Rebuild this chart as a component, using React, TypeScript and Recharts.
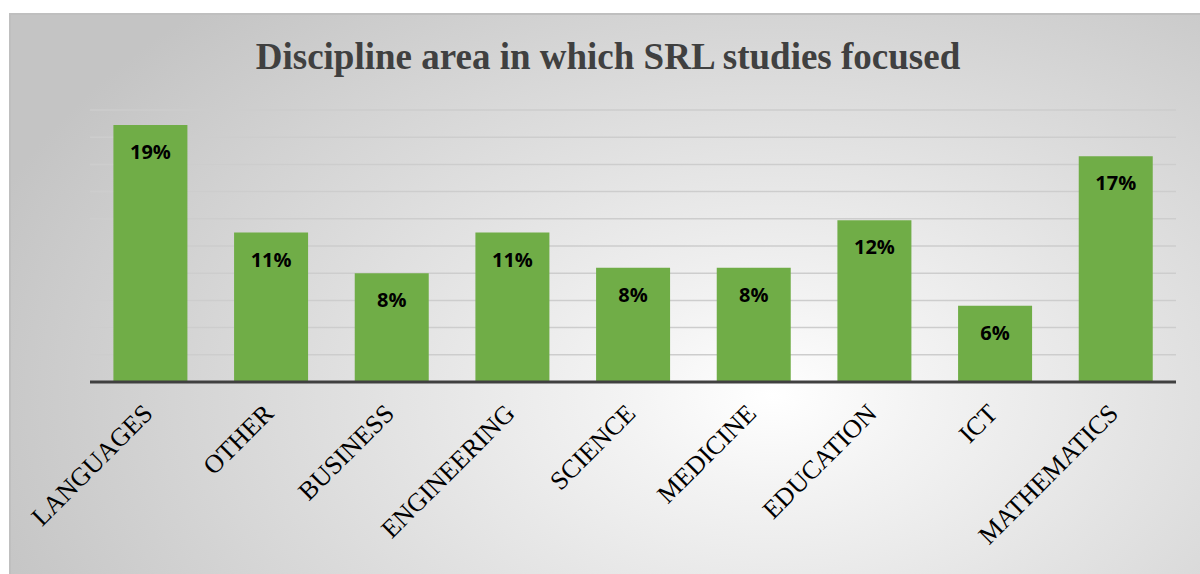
import React from 'react';
import { BarChart, Bar, XAxis, YAxis, CartesianGrid, LabelList } from 'recharts';

const disciplines = ['LANGUAGES', 'OTHER', 'BUSINESS', 'ENGINEERING', 'SCIENCE', 'MEDICINE', 'EDUCATION', 'ICT', 'MATHEMATICS'];
const shares = [18.9, 11.0, 8.0, 11.0, 8.4, 8.4, 11.9, 5.6, 16.6];
const gridTicks = [0, 2, 4, 6, 8, 10, 12, 14, 16, 18, 20];

const data = disciplines.map((name, i) => ({ name, value: shares[i] }));

const W = 1191;
const H = 561;

const DisciplineTick = (props: any) => {
    const { x, y, payload } = props;
    return (
        <g transform={`translate(${x + 4},${y + 33})`}>
            <text
                x={0}
                y={0}
                textAnchor="end"
                transform="rotate(-45)"
                fill="#000"
                fontFamily="'Liberation Serif', 'Times New Roman', serif"
                fontSize={26}
            >
                {payload.value}
            </text>
        </g>
    );
};

const App: React.FC = () => {
    return (
        <div
            style={{
                position: 'absolute',
                left: 9,
                top: 13,
                width: W,
                height: H,
                boxSizing: 'border-box',
                borderTop: '2px solid #bfbfbf',
                borderLeft: '2px solid #bfbfbf',
                background: 'radial-gradient(ellipse 70% 95% at 64% 68%, #ffffff 0%, #f3f3f3 18%, #dcdcdc 58%, #c4c4c4 100%)',
                overflow: 'hidden',
            }}
        >
            <svg width={W} height={80} style={{ position: 'absolute', left: -2, top: -2 }}>
                <text
                    x={599}
                    y={56}
                    textAnchor="middle"
                    fill="#404040"
                    fontFamily="'Liberation Serif', 'Times New Roman', serif"
                    fontWeight="bold"
                    fontSize={37}
                >
                    Discipline area in which SRL studies focused
                </text>
            </svg>
            <div style={{ position: 'absolute', left: -2, top: -2 }}>
                <BarChart
                    width={W}
                    height={H}
                    data={data}
                    margin={{ top: 97, right: 24, left: 81, bottom: 0 }}
                    barCategoryGap="19.4%"
                >
                    <CartesianGrid vertical={false} stroke="#cdcdcd" strokeWidth={1.5} />
                    <YAxis hide domain={[0, 20]} ticks={gridTicks} />
                    <XAxis
                        dataKey="name"
                        interval={0}
                        height={192}
                        tickLine={false}
                        tickSize={0}
                        tickMargin={0}
                        axisLine={{ stroke: '#404040', strokeWidth: 3 }}
                        tick={<DisciplineTick />}
                    />
                    <Bar dataKey="value" fill="#70ad47" isAnimationActive={false}>
                        <LabelList
                            dataKey="value"
                            position="insideTop"
                            offset={20}
                            formatter={(v: any) => `${Math.round(Number(v))}%`}
                            fill="#000"
                            fontFamily="'Open Sans', sans-serif"
                            fontWeight="bold"
                            fontSize={20}
                        />
                    </Bar>
                </BarChart>
            </div>
        </div>
    );
};

export default App;
